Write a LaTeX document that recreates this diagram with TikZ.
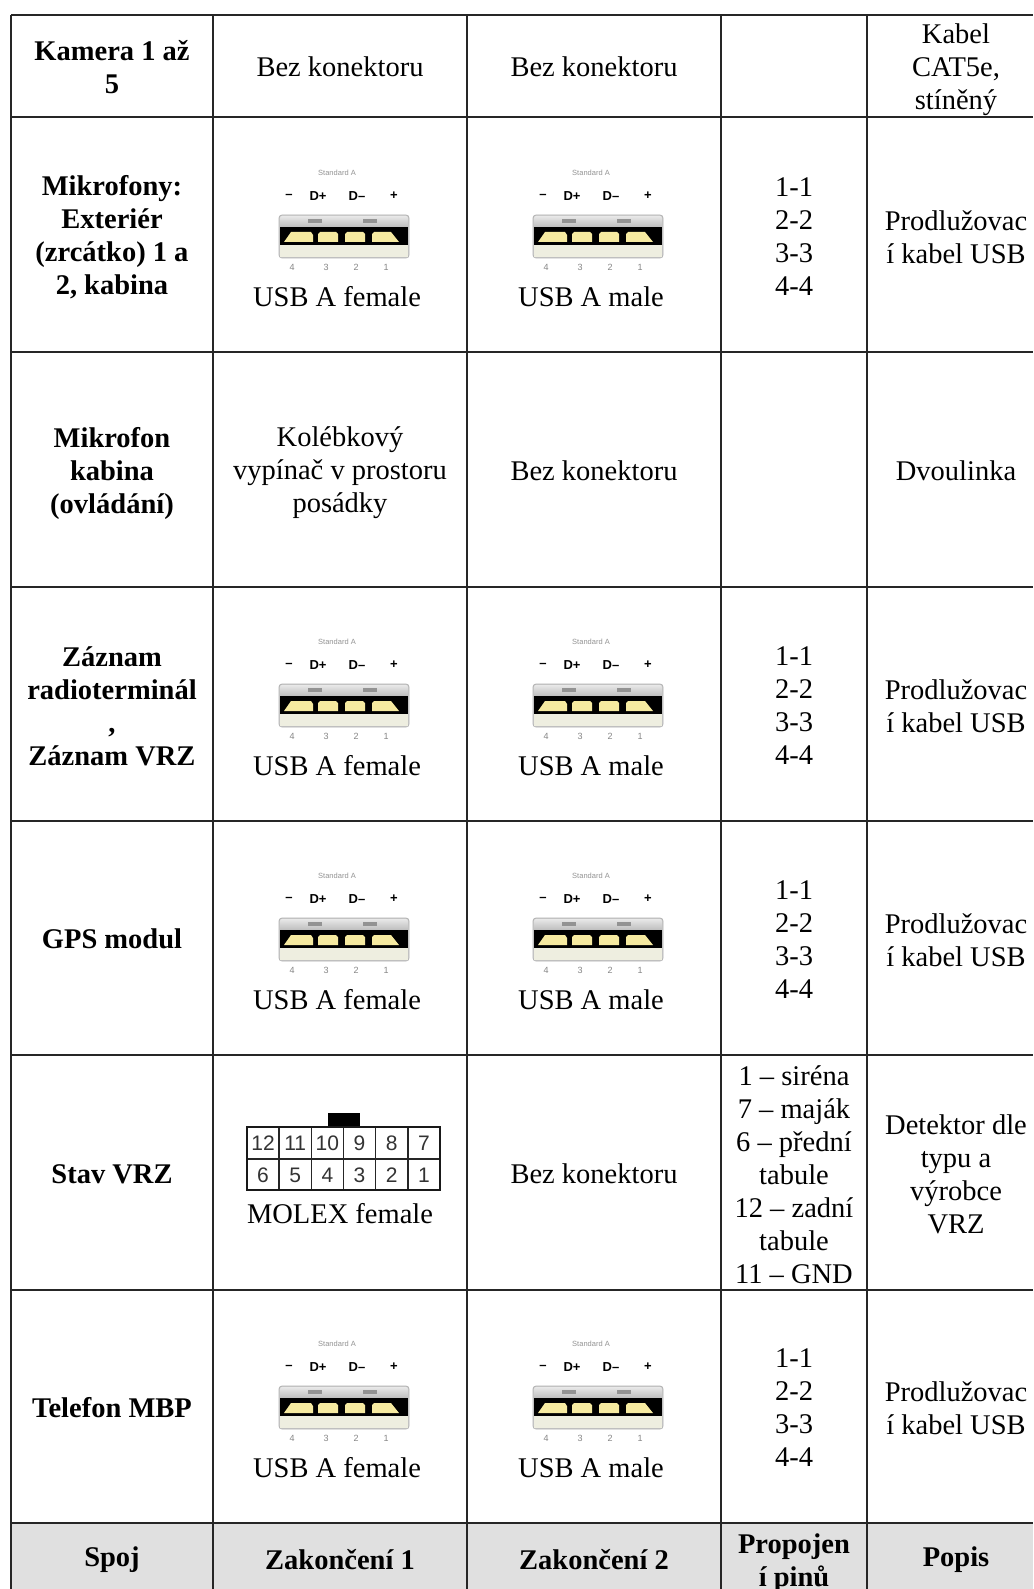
\documentclass[tikz,border=0pt]{standalone}
\usepackage{fontspec}
\setmainfont{Liberation Serif}
\newfontfamily\usbsans{Liberation Sans}
\definecolor{padcol}{RGB}{246,234,160}
\definecolor{basecol}{RGB}{238,238,224}
\definecolor{hdrgray}{RGB}{224,224,224}
\tikzset{
  txt/.style={font=\fontsize{28.5}{33}\selectfont, align=center, inner sep=0pt},
  btxt/.style={font=\fontsize{28.5}{33}\selectfont\bfseries, align=center, inner sep=0pt},
  gridline/.style={line width=2.2pt, black!85},
  tinytxt/.style={font=\usbsans\fontsize{7.5}{8}\selectfont, text=gray!85, inner sep=0pt},
  pintxt/.style={font=\usbsans\fontsize{9}{10}\selectfont, text=gray!95, inner sep=0pt},
  sigtxt/.style={font=\usbsans\bfseries\fontsize{13}{14}\selectfont, inner sep=0pt},
  molexnum/.style={font=\usbsans\fontsize{21}{22}\selectfont, text=black!80, inner sep=0pt},
  pad/.style={fill=padcol}
}
% #1 x, #2 y, #3 node name prefix, #4 label
\newcommand\usbicon[4]{%
\begin{scope}[shift={(#1,#2)}]
  \node[tinytxt] (#3-std) at (-3,-62) {Standard A};
  \node[sigtxt] (#3-s1) at (-51,-39) {–};
  \node[sigtxt] (#3-s2) at (-22,-39) {D+};
  \node[sigtxt] (#3-s3) at (17,-39) {D–};
  \node[sigtxt] (#3-s4) at (54,-39) {+};
  % body
  \draw[gray!60, line width=0.8pt, rounded corners=3pt, fill=gray!40] (-61,-20) rectangle (69,23);
  \shade[top color=gray!18, bottom color=gray!55, rounded corners=2pt] (-60,-19) rectangle (68,-7);
  \fill[gray!85] (-32,-16) rectangle (-18,-12);
  \fill[gray!85] (23,-16) rectangle (37,-12);
  \fill[black] (-60,-8) rectangle (68,10);
  \fill[basecol] (-60,10) rectangle (68,22);
  \draw[gray!50, line width=0.6pt] (-60,22) -- (68,22);
  % contacts
  \fill[pad] (-56,7) -- (-49,-3) -- (-29,-3) -- (-27,0) -- (-27,7) -- cycle;
  \fill[pad] (-22,7) -- (-22,-1) -- (-20,-3) -- (-4,-3) -- (-2,-1) -- (-2,7) -- cycle;
  \fill[pad] (5,7) -- (5,-1) -- (7,-3) -- (23,-3) -- (25,-1) -- (25,7) -- cycle;
  \fill[pad] (32,7) -- (32,-1) -- (34,-3) -- (51,-3) -- (59,7) -- cycle;
  \node[pintxt] (#3-p4) at (-48,32) {4};
  \node[pintxt] (#3-p3) at (-14,32) {3};
  \node[pintxt] (#3-p2) at (16,32) {2};
  \node[pintxt] (#3-p1) at (46,32) {1};
  \node[txt] (#3-lbl) at (-3,62) {#4};
\end{scope}}
\begin{document}
\begin{tikzpicture}[x=1pt,y=-1pt]
\useasboundingbox (0,0) rectangle (1033,1589);
\fill[white] (0,0) rectangle (1033,1589);
% header background
\fill[hdrgray] (11,1523) rectangle (1033,1589);
% grid
\foreach \yy in {15,117,352,587,821,1055,1290,1523}
  \draw[gridline] (11,\yy) -- (1033,\yy);
\foreach \xx in {11,213,467,721,867}
  \draw[gridline] (\xx,15) -- (\xx,1589);

% Row 1
\node[btxt] (r1c1) at (112,67) {Kamera 1 až\\5};
\node[txt] (r1c2) at (340,67) {Bez konektoru};
\node[txt] (r1c3) at (594,67) {Bez konektoru};
\node[txt] (r1c5) at (956,70) {Kabel\\CAT5e,\\stíněný};

% Row 2
\node[btxt] (r2c1) at (112,237) {Mikrofony:\\Exteriér\\(zrcátko) 1 a\\2, kabina};
\usbicon{340}{235}{r2f}{USB A female}
\usbicon{594}{235}{r2m}{USB A male}
\node[txt] (r2c4) at (794,237) {1-1\\2-2\\3-3\\4-4};
\node[txt] (r2c5) at (956,237) {Prodlužovac\\í kabel USB};

% Row 3
\node[btxt] (r3c1) at (112,473) {Mikrofon\\kabina\\(ovládání)};
\node[txt] (r3c2) at (340,473) {Kolébkový\\vypínač v prostoru\\posádky};
\node[txt] (r3c3) at (594,471) {Bez konektoru};
\node[txt] (r3c5) at (956,471) {Dvoulinka};

% Row 4
\node[btxt] (r4c1) at (112,706) {Záznam\\radioterminál\\,\\Záznam VRZ};
\usbicon{340}{704}{r4f}{USB A female}
\usbicon{594}{704}{r4m}{USB A male}
\node[txt] (r4c4) at (794,706) {1-1\\2-2\\3-3\\4-4};
\node[txt] (r4c5) at (956,706) {Prodlužovac\\í kabel USB};

% Row 5
\node[btxt] (r5c1) at (112,939) {GPS modul};
\usbicon{340}{938}{r5f}{USB A female}
\usbicon{594}{938}{r5m}{USB A male}
\node[txt] (r5c4) at (794,940) {1-1\\2-2\\3-3\\4-4};
\node[txt] (r5c5) at (956,940) {Prodlužovac\\í kabel USB};

% Row 6
\node[btxt] (r6c1) at (112,1174) {Stav VRZ};
% MOLEX connector
\fill[black] (328,1113) rectangle (360,1128);
\foreach \i in {1,...,5}
  \draw[line width=1.6pt, black!85] ({247+32.17*\i},1127) -- ({247+32.17*\i},1190);
\draw[line width=1.6pt, black!85] (247,1159) -- (440,1159);
\draw[line width=2.4pt, black!90] (247,1127) rectangle (440,1190);
\foreach \n [count=\i from 0] in {12,11,10,9,8,7}
  \node[molexnum] (mt\n) at ({263+32.17*\i},1143.5) {\n};
\foreach \n [count=\i from 0] in {6,5,4,3,2,1}
  \node[molexnum] (mb\n) at ({263+32.17*\i},1175) {\n};
\node[txt] (r6c2) at (340,1214) {MOLEX female};
\node[txt] (r6c3) at (594,1174) {Bez konektoru};
\node[txt] (r6c4) at (794,1175) {1 – siréna\\7 – maják\\6 – přední\\tabule\\12 – zadní\\tabule\\11 – GND};
\node[txt] (r6c5) at (956,1174) {Detektor dle\\typu a\\výrobce\\VRZ};

% Row 7
\node[btxt] (r7c1) at (112,1408) {Telefon MBP};
\usbicon{340}{1406}{r7f}{USB A female}
\usbicon{594}{1406}{r7m}{USB A male}
\node[txt] (r7c4) at (794,1408) {1-1\\2-2\\3-3\\4-4};
\node[txt] (r7c5) at (956,1408) {Prodlužovac\\í kabel USB};

% Header row
\node[btxt] (h1) at (112,1560) {Spoj};
\node[btxt] (h2) at (340,1560) {Zakončení 1};
\node[btxt] (h3) at (594,1560) {Zakončení 2};
\node[btxt] (h4) at (794,1563) {Propojen\\í pinů};
\node[btxt] (h5) at (956,1560) {Popis};
\end{tikzpicture}
\end{document}
